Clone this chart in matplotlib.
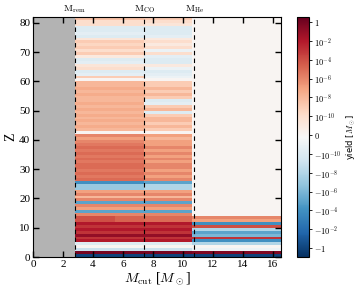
import numpy as np
import matplotlib
matplotlib.use("Agg")
import matplotlib.pyplot as plt
from matplotlib.colors import SymLogNorm

plt.rcParams["font.family"] = "serif"
plt.rcParams["font.serif"] = ["Liberation Serif", "DejaVu Serif"]
plt.rcParams["mathtext.fontset"] = "cm"

# mass cuts (Msun)
m_rem = 2.77
m_co = 7.43
m_he = 10.77

# M_cut bin edges of the yield table
mcut_edges = [2.77, 5.5, 7.43, 10.6, 16.55]

# yields per element Z = 1..82, one list per M_cut bin
y_inner = [-1, 1, -1e-9, 0, -1e-10, 1e-2, 1e-3, 1e-1, 1e-3, 1e-2,
           1e-3, 1e-2, 1e-4, 1e-4, 1e-6, -1e-5, 1e-7, 1e-6, -1e-5, 1e-6,
           1e-8, 1e-6, 1e-7, -1e-7, -1e-7, -1e-4, 1e-5, 3e-6, 1e-5, 3e-6,
           1e-5, 1e-5, 3e-6, 1e-5, 3e-6, 1e-5, 3e-6, 1e-5, 3e-6, 1e-6,
           1e-7, 1e-6, 0, 1e-8, 3e-8, 1e-8, 3e-8, 1e-8, 3e-8, 1e-8,
           3e-8, 1e-8, 3e-8, 1e-8, 1e-8, 3e-8, 1e-8, 3e-8, 1e-8, 1e-8,
           0, 1e-9, -3e-11, -1e-10, 1e-10, 3e-11, -3e-11, -1e-10, 1e-11, 1e-9,
           1e-10, 1e-9, 3e-10, 1e-9, 3e-11, -1e-10, -3e-11, -1e-10, -1e-10, 1e-10,
           1e-10, 3e-9]

y_mid = [-1, 1, -1e-9, 0, -1e-10, 1e-2, 1e-3, 1e-1, 1e-3, 1e-2,
         1e-3, 1e-2, 2e-5, 2e-5, 1e-6, -1e-5, 1e-7, 1e-6, -1e-5, 1e-6,
         1e-8, 1e-6, 1e-7, -1e-7, -1e-7, -1e-4, 1e-5, 3e-6, 1e-5, 3e-6,
         1e-5, 1e-5, 3e-6, 1e-5, 3e-6, 1e-5, 3e-6, 1e-5, 3e-6, 1e-6,
         1e-7, 1e-6, 0, 1e-8, 3e-8, 1e-8, 3e-8, 1e-8, 3e-8, 1e-8,
         3e-8, 1e-8, 3e-8, 1e-8, 1e-8, 3e-8, 1e-8, 3e-8, 1e-8, 1e-8,
         0, 1e-9, -3e-11, -1e-10, 1e-10, 3e-11, -3e-11, -1e-10, 1e-11, 1e-9,
         1e-10, 1e-9, 3e-10, 1e-9, 3e-11, -1e-10, -3e-11, -1e-10, -1e-10, 1e-10,
         1e-10, 3e-9]

y_co = [-1, 1, -1e-9, 0, -1e-10, 1e-2, 1e-3, 1e-1, 1e-3, 1e-2,
        1e-3, 1e-2, 1e-5, 1e-5, 1e-6, -1e-5, 1e-7, 1e-6, -1e-5, 1e-6,
        1e-8, 1e-6, 1e-7, -1e-8, -1e-8, -1e-5, 1e-6, 1e-7, 1e-6, 1e-7,
        1e-6, 1e-6, 1e-7, 1e-6, 1e-7, 1e-6, 1e-7, 1e-6, 1e-7, 1e-7,
        1e-8, 1e-7, 0, 1e-9, 1e-8, 1e-9, 1e-8, 1e-8, 1e-9, -1e-10,
        1e-8, 1e-9, -3e-11, -1e-10, 1e-9, 1e-8, 1e-9, 1e-8, 1e-9, 1e-9,
        0, -1e-11, -3e-11, -1e-10, -1e-11, 1e-11, -1e-10, -1e-10, -3e-11, 1e-10,
        -1e-11, 1e-10, 1e-11, 1e-10, 1e-11, -3e-11, -1e-10, -1e-10, -1e-10, 3e-11,
        1e-10, 1e-9]

y_he = [-1, 0.5, -1e-11, 0, -1e-8, -1e-4, 1e-3, -1e-6, -1e-5, -1e-8,
        1e-4, -1e-4, 1e-7, 1e-6] + [0.0] * 68

z_edges = np.arange(0, 83)

yields = np.column_stack([y_inner, y_mid, y_co, y_he])

fig = plt.figure(figsize=(3.56, 2.91), dpi=100)
ax = fig.add_axes([0.0927, 0.1168, 0.6966, 0.8247])
cax = fig.add_axes([0.834, 0.1168, 0.035, 0.8247])

norm = SymLogNorm(linthresh=1e-11, linscale=0.9, vmin=-9, vmax=3.4, base=10)
mesh = ax.pcolormesh(mcut_edges, z_edges, yields, cmap="RdBu_r", norm=norm)
ax.set_facecolor("#f5f3f1")
ax.axvspan(0, m_rem, color="#b3b3b3", lw=0)

for m in [m_rem, m_co, m_he]:
    ax.axvline(m, color="k", ls=(0, (4, 3)), lw=0.8)

ax.set_xlim(0, 16.55)
ax.set_ylim(0, 82)
ax.set_xticks(np.arange(0, 17, 2))
ax.set_yticks(np.arange(0, 81, 10))
ax.tick_params(direction="in", top=True, right=True, length=4, width=1,
               labelsize=8, pad=2)

for m, lab in zip([m_rem, m_co, m_he], ["rem", "CO", "He"]):
    ax.text(m, 1.008, r"$\mathrm{M_{%s}}$" % lab, transform=ax.get_xaxis_transform(),
            ha="center", va="bottom", fontsize=7)

ax.set_xlabel(r"$M_{\rm cut}$ [$M_\odot$]", fontsize=10, labelpad=1)
ax.set_ylabel("Z", fontsize=10, labelpad=1)

ticks = [-1, -1e-2, -1e-4, -1e-6, -1e-8, -1e-10, 0, 1e-10, 1e-8, 1e-6, 1e-4, 1e-2, 1]
labels = [r"$-1$", r"$-10^{-2}$", r"$-10^{-4}$", r"$-10^{-6}$", r"$-10^{-8}$",
          r"$-10^{-10}$", r"$0$", r"$10^{-10}$", r"$10^{-8}$", r"$10^{-6}$",
          r"$10^{-4}$", r"$10^{-2}$", r"$1$"]
cb = fig.colorbar(mesh, cax=cax, ticks=ticks)
cb.ax.set_yticklabels(labels)
cb.ax.tick_params(labelsize=6, length=2, width=0.6, pad=1)
cb.ax.minorticks_off()
cb.set_label(r"yield [$M_\odot$]", fontsize=6, family="DejaVu Sans", labelpad=2)

fig.savefig("out.png", dpi=100)
